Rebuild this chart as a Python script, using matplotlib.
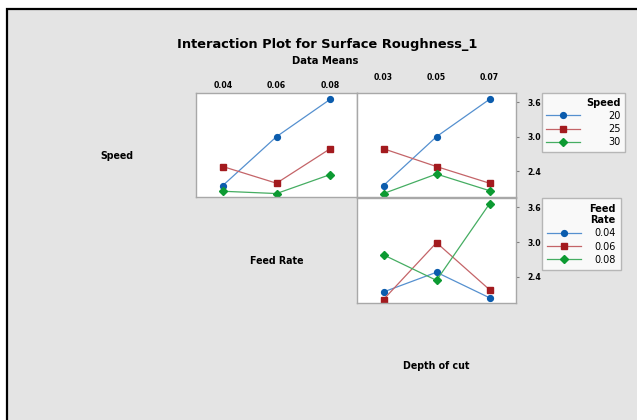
import matplotlib
matplotlib.use("Agg")
import matplotlib.pyplot as plt
from matplotlib.patches import Rectangle
from matplotlib import font_manager

# ---------------- data ----------------
feed_levels = ["0.04", "0.06", "0.08"]
depth_levels = ["0.03", "0.05", "0.07"]
speed_levels = ["20", "25", "30"]

# Speed x Feed Rate (lines: speed)
speed20_by_feed = [2.15, 3.00, 3.65]
speed25_by_feed = [2.48, 2.19, 2.79]
speed30_by_feed = [2.05, 2.01, 2.34]

# Speed x Depth of cut (lines: speed)
speed20_by_depth = [2.15, 3.00, 3.65]
speed25_by_depth = [2.79, 2.48, 2.19]
speed30_by_depth = [2.01, 2.35, 2.06]

# Feed Rate x Depth of cut (lines: feed rate)
feed004_by_depth = [2.14, 2.48, 2.04]
feed006_by_depth = [2.01, 2.99, 2.18]
feed008_by_depth = [2.78, 2.34, 3.66]

y_ticks = [2.4, 3.0, 3.6]
y_tick_labels = ["2.4", "3.0", "3.6"]

title = "Interaction Plot for Surface Roughness_1"
subtitle = "Data Means"

# ---------------- style ----------------
names = {f.name for f in font_manager.fontManager.ttflist}
if "Liberation Sans Narrow" in names:
    FAM = ["Liberation Sans Narrow", "DejaVu Sans"]
    scale = 1.0
else:
    FAM = ["DejaVu Sans"]
    scale = 0.85
plt.rcParams["font.family"] = FAM

W, H = 637, 420
fig = plt.figure(figsize=(W / 100, H / 100), dpi=100)
fig.patch.set_facecolor("white")
BG = "#e4e4e4"
fig.patches.append(Rectangle((7 / W, -0.05), 1.1, 1.05 - 9.5 / H,
                             transform=fig.transFigure, facecolor=BG,
                             edgecolor="black", lw=1.6, zorder=-5))

def fx(px):
    return px / W

def fy(py):
    return 1 - py / H

colors = {"blue": "#0b5cad", "red": "#a31a1e", "green": "#0c9a32"}
line_colors = {"blue": "#5590cf", "red": "#c46468", "green": "#45ad62"}
styles = [("blue", "o", 4.2), ("red", "s", 4.6), ("green", "D", 4.2)]

def make_ax(x0, x1, y0, y1):
    ax = fig.add_axes([fx(x0), fy(y1), fx(x1) - fx(x0), fy(y0) - fy(y1)])
    ax.set_facecolor("white")
    for s in ax.spines.values():
        s.set_color("#a8a8a8")
        s.set_linewidth(1.0)
    ax.set_xlim(-0.5, 2.5)
    ax.set_ylim(1.95, 3.76)
    ax.tick_params(left=False, labelleft=False, bottom=False, labelbottom=False,
                   top=False, labeltop=False, right=False, labelright=False)
    return ax

def draw(ax, series, labels):
    handles = []
    for vals, (c, m, ms), lab in zip(series, styles, labels):
        h, = ax.plot(range(len(vals)), vals, color=line_colors[c], lw=0.9,
                     marker=m, ms=ms, mfc=colors[c], mec=colors[c], label=lab)
        handles.append(h)
    return handles

def top_labels(ax, labels):
    ax.set_xticks(range(len(labels)))
    ax.set_xticklabels(labels)
    ax.tick_params(top=False, labeltop=True, length=0, pad=2.0,
                   labelsize=6 * scale + 0.5)
    for t in ax.get_xticklabels():
        t.set_fontweight("bold")

def right_labels(ax):
    ax.set_yticks(y_ticks)
    ax.set_yticklabels(y_tick_labels)
    ax.tick_params(right=True, labelright=True, length=2.5, width=0.8,
                   color="#808080", pad=5.5, labelsize=6 * scale + 0.5)
    for t in ax.get_yticklabels():
        t.set_fontweight("bold")

# Panel 1: Speed vs Feed Rate
ax1 = make_ax(196, 357, 93, 197)
draw(ax1, [speed20_by_feed, speed25_by_feed, speed30_by_feed], speed_levels)
top_labels(ax1, feed_levels)

# Panel 2: Speed vs Depth of cut
ax2 = make_ax(357, 516, 93, 197)
h_speed = draw(ax2, [speed20_by_depth, speed25_by_depth, speed30_by_depth], speed_levels)
top_labels(ax2, depth_levels)
right_labels(ax2)

# Panel 3: Feed Rate vs Depth of cut
ax3 = make_ax(357, 516, 198, 303)
h_feed = draw(ax3, [feed004_by_depth, feed006_by_depth, feed008_by_depth], feed_levels)
right_labels(ax3)

# Diagonal labels
lab_kw = dict(ha="center", va="center", fontsize=7.5 * scale + 0.5, fontweight="bold")
fig.text(fx(117), fy(156), "Speed", **lab_kw)
fig.text(fx(277), fy(261), "Feed Rate", **lab_kw)
fig.text(fx(436), fy(366), "Depth of cut", **lab_kw)

# Title
fig.text(fx(327), fy(44.5), title, ha="center", va="center",
         fontsize=11 * scale, fontweight="bold")
fig.text(fx(325), fy(61), subtitle, ha="center", va="center",
         fontsize=8.5 * scale, fontweight="bold")

# Legends
leg_kw = dict(loc="upper left", frameon=True, fancybox=False, fontsize=7.5 * scale + 0.7,
              title_fontsize=7.5 * scale + 0.7, handlelength=3.4,
              alignment="right", borderpad=0.45, labelspacing=0.32,
              borderaxespad=0)
leg1 = fig.legend(handles=h_speed, labels=speed_levels, title="Speed",
                  bbox_to_anchor=(fx(541.7), fy(93.3)), handletextpad=2.9, **leg_kw)
leg2 = fig.legend(handles=h_feed, labels=feed_levels, title="Feed\nRate",
                  bbox_to_anchor=(fx(541.7), fy(198.3)), handletextpad=1.4,
                  **{**leg_kw, "borderpad": 0.55})
for lg in (leg1, leg2):
    fr = lg.get_frame()
    fr.set_edgecolor("#a8a8a8")
    fr.set_linewidth(1.0)
    fr.set_facecolor("white")
    lg.get_title().set_fontweight("bold")
    lg.get_title().set_ha("right")
    lg.get_title().set_multialignment("center")

fig.savefig("out.png", dpi=100, facecolor=fig.get_facecolor())
